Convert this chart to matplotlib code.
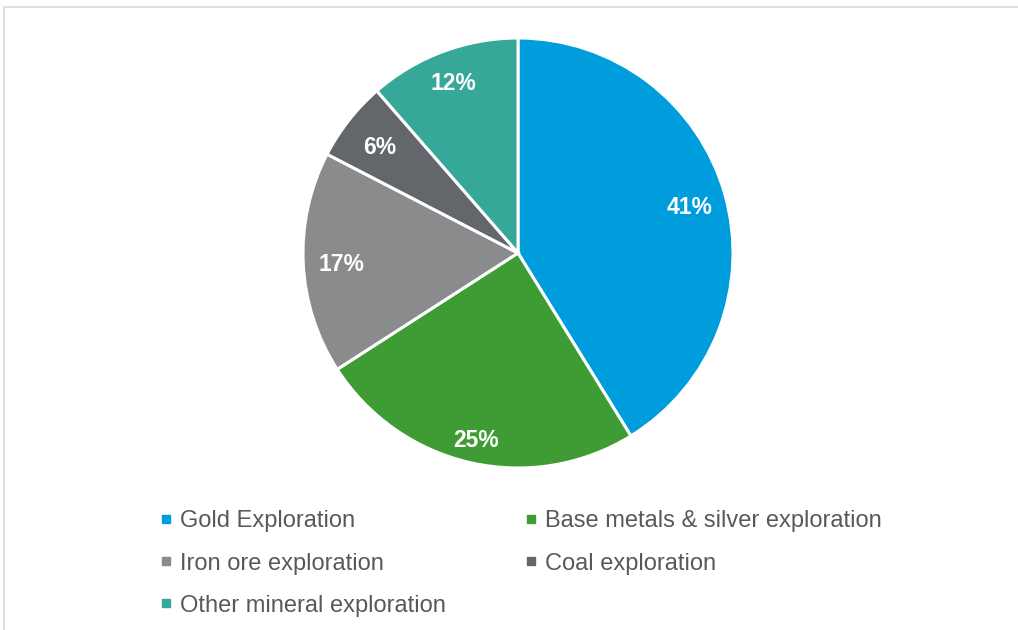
import matplotlib
matplotlib.use("Agg")
import matplotlib.pyplot as plt
from matplotlib.lines import Line2D
from matplotlib.patches import Rectangle
import numpy as np

categories = ["Gold Exploration", "Base metals & silver exploration", "Iron ore exploration",
              "Coal exploration", "Other mineral exploration"]
values = [41.2, 24.7, 16.7, 6.0, 11.4]
pct_labels = ["41%", "25%", "17%", "6%", "12%"]
colors = ["#009DDC", "#3F9C35", "#898B8D", "#63666A", "#36A899"]

plt.rcParams['font.family'] = ['Liberation Sans', 'DejaVu Sans']

W, H = 1018, 630
fig = plt.figure(figsize=(W / 100, H / 100), dpi=100)

# light frame
fig.patches.append(Rectangle((3.5 / W, -0.1), 1.2, 1 - 7.5 / H + 0.1, transform=fig.transFigure,
                             fill=False, edgecolor="#D9D9D9", linewidth=1.2))

cx, cy, r = 518, 253, 215
ax = fig.add_axes([(cx - r) / W, 1 - (cy + r) / H, 2 * r / W, 2 * r / H])
wedges, _ = ax.pie(values, colors=colors, startangle=90, counterclock=False, radius=1,
                   wedgeprops=dict(edgecolor="white", linewidth=2.2))
label_r = [0.83, 0.88, 0.82, 0.82, 0.86]
total = sum(values)
cum = 0
for v, lab, rr in zip(values, pct_labels, label_r):
    mid = 90 - 360 * (cum + v / 2) / total
    cum += v
    ax.text(rr * np.cos(np.radians(mid)), rr * np.sin(np.radians(mid)) - 0.015, lab,
            ha="center", va="center", color="white", fontsize=16.5, fontweight="bold")
ax.set_xlim(-1, 1)
ax.set_ylim(-1, 1)
ax.set_aspect("equal")
ax.axis("off")

# legend
order = [0, 2, 4, 1, 3]
handles = [Line2D([], [], marker="s", linestyle="none", markersize=5.5, color=colors[i]) for i in order]
labels = [categories[i] for i in order]
leg = fig.legend(handles, labels, ncol=2, loc="upper left", bbox_to_anchor=(149 / W, 1 - 501 / H),
                 frameon=False, fontsize=17, labelcolor="#595959", handlelength=0.6,
                 handletextpad=0.3, columnspacing=3.3, labelspacing=0.85, borderaxespad=0)

fig.savefig("out.png", dpi=100, facecolor="white")
